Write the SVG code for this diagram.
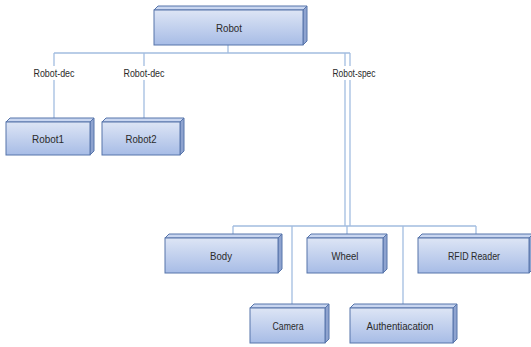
<svg xmlns="http://www.w3.org/2000/svg" width="531" height="347" viewBox="0 0 531 347">
<defs>
<linearGradient id="g" x1="0" y1="0" x2="0" y2="1">
<stop offset="0" stop-color="#dde5f5"/>
<stop offset="1" stop-color="#a7bce6"/>
</linearGradient>
<style>
.f{fill:url(#g);stroke:#5674aa;stroke-width:1}
.t{fill:#c9d6f0;stroke:#5674aa;stroke-width:1}
.s{fill:#8ea3cf;stroke:#5674aa;stroke-width:1}
.c{fill:none;stroke:#a3bde0;stroke-width:1.3}
text{font-family:"Liberation Sans",Arial,sans-serif;font-size:11.5px;fill:#2a2a2a;text-anchor:middle}
.lb{fill:#fff}
</style>
</defs>
<rect width="531" height="347" fill="#fff"/>
<g id="connectors">
<path class="c" d="M54 53H350M228 45V53M54 53V122M144 53V122M345 53V226M350 53V226M233 226H476M233 226V238M292 226V308M347 226V238M403 226V308M476 226V238"/>
<rect class="lb" x="31" y="66" width="46" height="14"/>
<rect class="lb" x="121" y="66" width="46" height="14"/>
<rect class="lb" x="330" y="66" width="48" height="14"/>
<text x="54" y="77" textLength="41" lengthAdjust="spacingAndGlyphs">Robot-dec</text>
<text x="144" y="77" textLength="41" lengthAdjust="spacingAndGlyphs">Robot-dec</text>
<text x="354" y="77" textLength="43" lengthAdjust="spacingAndGlyphs">Robot-spec</text>
</g>
<g id="robot">
<polygon class="t" points="154,10 158,6 307,6 303,10"/>
<polygon class="s" points="303,10 307,6 307,41 303,45"/>
<rect class="f" x="154" y="10" width="149" height="35"/>
<text x="229" y="32" textLength="26" lengthAdjust="spacingAndGlyphs">Robot</text>
</g>
<g id="robot1">
<polygon class="t" points="6,122 10,118 94,118 90,122"/>
<polygon class="s" points="90,122 94,118 94,151 90,155"/>
<rect class="f" x="6" y="122" width="84" height="33"/>
<text x="48" y="143" textLength="32" lengthAdjust="spacingAndGlyphs">Robot1</text>
</g>
<g id="robot2">
<polygon class="t" points="102,122 106,118 184,118 180,122"/>
<polygon class="s" points="180,122 184,118 184,151 180,155"/>
<rect class="f" x="102" y="122" width="78" height="33"/>
<text x="141" y="143" textLength="31" lengthAdjust="spacingAndGlyphs">Robot2</text>
</g>
<g id="body">
<polygon class="t" points="165,238 169,234 282,234 278,238"/>
<polygon class="s" points="278,238 282,234 282,269 278,273"/>
<rect class="f" x="165" y="238" width="113" height="35"/>
<text x="221" y="260" textLength="22" lengthAdjust="spacingAndGlyphs">Body</text>
</g>
<g id="wheel">
<polygon class="t" points="307,238 311,234 387,234 383,238"/>
<polygon class="s" points="383,238 387,234 387,269 383,273"/>
<rect class="f" x="307" y="238" width="76" height="35"/>
<text x="345" y="260" textLength="27" lengthAdjust="spacingAndGlyphs">Wheel</text>
</g>
<g id="rfid">
<polygon class="t" points="418,238 422,234 533,234 529,238"/>
<polygon class="s" points="529,238 533,234 533,269 529,273"/>
<rect class="f" x="418" y="238" width="111" height="35"/>
<text x="474" y="260" textLength="52" lengthAdjust="spacingAndGlyphs">RFID Reader</text>
</g>
<g id="camera">
<polygon class="t" points="250,308 254,304 329,304 325,308"/>
<polygon class="s" points="325,308 329,304 329,339 325,343"/>
<rect class="f" x="250" y="308" width="75" height="35"/>
<text x="288" y="330" textLength="31" lengthAdjust="spacingAndGlyphs">Camera</text>
</g>
<g id="auth">
<polygon class="t" points="350,308 354,304 457,304 453,308"/>
<polygon class="s" points="453,308 457,304 457,339 453,343"/>
<rect class="f" x="350" y="308" width="103" height="35"/>
<text x="400" y="330" textLength="67" lengthAdjust="spacingAndGlyphs">Authentiacation</text>
</g>
</svg>
